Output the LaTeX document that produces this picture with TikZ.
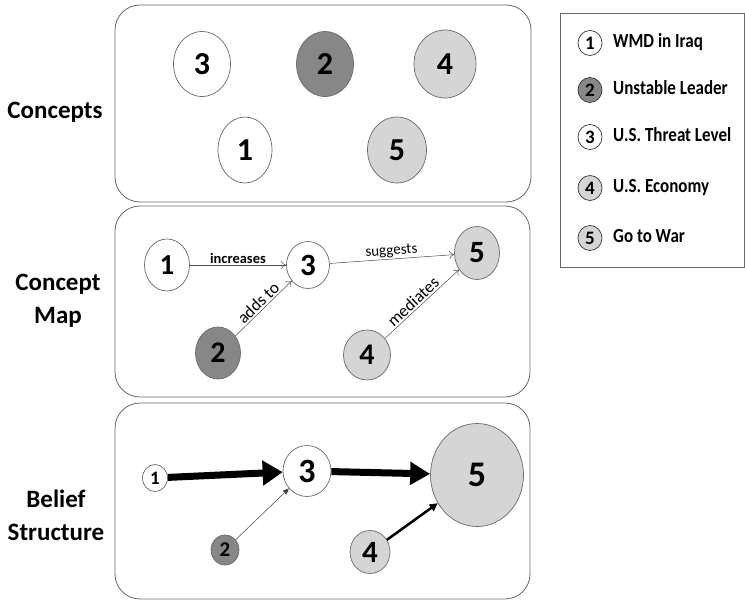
\documentclass[tikz,border=0pt]{standalone}
\usepackage{fontspec}
\setmainfont{Carlito}
\newfontfamily\legendfont[FakeStretch=0.85]{Carlito}
\usetikzlibrary{arrows.meta,shapes.geometric}

\definecolor{leaderfill}{RGB}{135,135,135}
\definecolor{lightfill}{RGB}{213,213,213}
\definecolor{rimgray}{RGB}{105,105,105}

\newcommand{\fsz}[1]{\fontsize{#1}{#1}\selectfont}

\tikzset{
    concept/.style={ellipse, draw=rimgray, line width=0.7pt, inner sep=0pt, font=\bfseries\fsz{#1}},
    csize/.style 2 args={minimum width=#1pt, minimum height=#2pt},
    panel/.style={draw=rimgray, line width=0.8pt, rounded corners=25pt},
    heading/.style={font=\bfseries\fontsize{25}{33}\selectfont, align=center},
    maparrow/.style={-{To[length=5pt,width=8pt]}, draw=black!70, line width=0.5pt},
    keytext/.style={anchor=west, font=\legendfont\bfseries\fsz{20}, text height=13pt, text depth=4pt, inner sep=0pt},
}

\begin{document}
\begin{tikzpicture}[x=1pt, y=-1pt]
        \useasboundingbox (0,0) rectangle (745,605);

        % panels
        \draw[panel] (115,5) rectangle (531,202);
        \draw[panel] (115,206) rectangle (530,397);
        \draw[panel] (115,403) rectangle (530,599);

        \node[heading] (hconcepts) at (55,112) {Concepts};
        \node[heading] (hmap) at (58,301) {Concept\\Map};
        \node[heading] (hbelief) at (56,515) {Belief\\Structure};

        % concepts
        \node[concept=32, csize={57}{65}, fill=white] (c3) at (202,64) {3};
        \node[concept=32, csize={57}{65}, fill=leaderfill] (c2) at (325,64) {2};
        \node[concept=32, csize={62}{68}, fill=lightfill] (c4) at (445,64) {4};
        \node[concept=32, csize={54}{66}, fill=white] (c1) at (245,150) {1};
        \node[concept=32, csize={59}{66}, fill=lightfill] (c5) at (397,150) {5};

        % concept map
        \node[concept=29, csize={45}{52}, fill=white] (m1) at (167,265) {1};
        \node[concept=31, csize={43}{47}, fill=white] (m3) at (308,265) {3};
        \node[concept=31, csize={45}{53}, fill=lightfill] (m5) at (477,253) {5};
        \node[concept=30, csize={45}{52}, fill=leaderfill] (m2) at (218,353) {2};
        \node[concept=30, csize={47}{50}, fill=lightfill] (m4) at (367,355) {4};

        \draw[maparrow] (m1) -- node[above, inner sep=1.5pt, font=\bfseries\fsz{14.5}] (lincr) {increases} (m3);
        \draw[maparrow] (m3) -- node[above, sloped, inner sep=1.5pt, font=\fsz{15}] (lsugg) {suggests} (m5);
        \draw[maparrow] (m2) -- node[above, sloped, inner sep=1.5pt, font=\fsz{17}] (ladds) {adds to} (m3);
        \draw[maparrow] (m4) -- node[pos=0.45, above, sloped, inner sep=1.5pt, font=\fsz{17}] (lmed) {mediates} (m5);

        % belief structure
        \node[concept=19, csize={25}{27}, fill=white] (b1) at (155,478) {1};
        \node[concept=34, csize={48}{51}, fill=white] (b3) at (307,471) {3};
        \node[concept=36, csize={93}{103}, fill=lightfill] (b5) at (477,475) {5};
        \node[concept=21, csize={28}{30}, fill=leaderfill] (b2) at (225,550) {2};
        \node[concept=31, csize={40}{43}, fill=lightfill] (b4) at (370,552) {4};

        \draw[-{Triangle[length=20pt,width=24pt]}, line width=7pt] (b1) -- (b3);
        \draw[-{Triangle[length=20pt,width=22pt]}, line width=7pt] (b3) -- (b5);
        \draw[-{Triangle[length=6pt,width=5pt]}, draw=black!75, line width=0.5pt] (b2) -- (b3);
        \draw[-{Triangle[length=8pt,width=8pt]}, line width=2.5pt] (b4) -- (b5);

        % legend
        \draw[draw=rimgray, line width=0.8pt] (560,13) rectangle (744,267);
        \node[concept=19, csize={24}{25}, draw=black!80, fill=white] (k1) at (590,43) {1};
        \node[concept=19, csize={24}{25}, draw=black!80, fill=leaderfill] (k2) at (590,90) {2};
        \node[concept=19, csize={24}{25}, draw=black!80, fill=white] (k3) at (590,137) {3};
        \node[concept=19, csize={24}{25}, draw=black!80, fill=lightfill] (k4) at (590,188) {4};
        \node[concept=19, csize={24}{25}, draw=black!80, fill=lightfill] (k5) at (590,238) {5};
        \node[keytext] (t1) at (613,43) {WMD in Iraq};
        \node[keytext] (t2) at (613,90) {Unstable Leader};
        \node[keytext] (t3) at (613,137) {U.S. Threat Level};
        \node[keytext] (t4) at (613,188) {U.S. Economy};
        \node[keytext] (t5) at (613,238) {Go to War};

    \end{tikzpicture}
\end{document}
